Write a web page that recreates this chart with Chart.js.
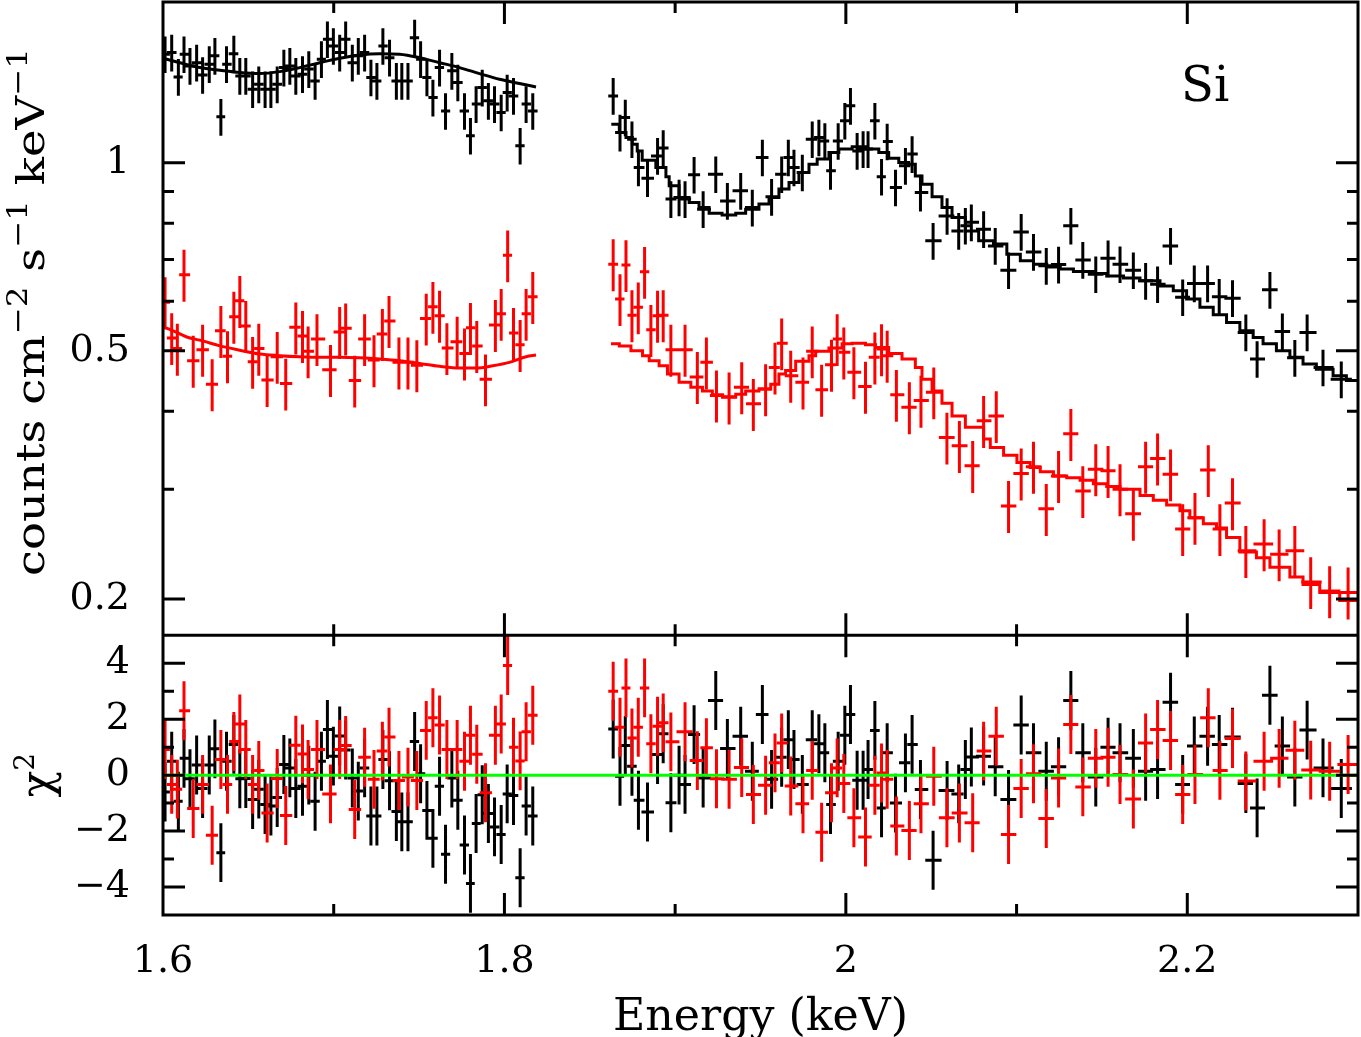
<!DOCTYPE html>
<html><head><meta charset="utf-8">
<script src="https://cdn.jsdelivr.net/npm/chart.js@4"></script>
<style>html,body{margin:0;padding:0;background:#fff}canvas{display:block}</style>
</head><body>
<canvas id="c" width="1361" height="1037"></canvas>
<script>
// ---------------- data (energy in keV, flux in counts cm^-2 s^-1 keV^-1) ----------------
const blackLeftE = [1.6012,1.6051,1.6090,1.6123,1.6158,1.6197,1.6232,1.6271,1.6304,1.6339,1.6372,1.6415,1.6450,1.6485,1.6525,1.6561,1.6598,1.6632,1.6669,1.6708,1.6743,1.6778,1.6817,1.6854,1.6891,1.6928,1.6963,1.6998,1.7035,1.7070,1.7109,1.7144,1.7181,1.7218,1.7253,1.7288,1.7327,1.7367,1.7399,1.7435,1.7474,1.7509,1.7546,1.7581,1.7620,1.7655,1.7692,1.7727,1.7766,1.7801,1.7834,1.7870,1.7906,1.7942,1.7981,1.8016,1.8053,1.8092,1.8127,1.8166];
const blackLeftFlux = [1.493,1.502,1.373,1.493,1.430,1.447,1.383,1.439,1.484,1.185,1.439,1.496,1.378,1.378,1.312,1.336,1.312,1.312,1.336,1.421,1.430,1.378,1.387,1.413,1.353,1.466,1.578,1.539,1.502,1.578,1.447,1.484,1.502,1.370,1.353,1.539,1.474,1.353,1.353,1.353,1.587,1.466,1.370,1.272,1.421,1.211,1.404,1.345,1.211,1.105,1.242,1.320,1.257,1.242,1.204,1.296,1.280,1.065,1.242,1.211];
const blackLeftResid = [-0.6,0.5,-0.93,0.6,-0.13,0.36,-0.48,0.36,0.94,-2.77,0.5,1.1,-0.13,-0.12,-0.87,-0.5,-1.05,-1.1,-0.8,0.38,0.26,-0.48,-0.4,0,-0.93,0.5,1.63,0.68,1.4,0.9,-0.1,-0.57,0.26,-1.46,-1.46,0.56,-0.2,-1.3,-1.67,-1.67,1.2,0.05,-1.26,-2.26,-0.4,-2.83,-0.1,-0.9,-2.5,-3.87,-1.73,-0.7,-1.37,-1.85,-2.12,-0.67,-0.73,-3.67,-1.1,-1.46];

const blackRightE = [1.8637,1.8677,1.8708,1.8747,1.8785,1.8838,1.8897,1.8930,1.8975,1.9023,1.9058,1.9111,1.9164,1.9238,1.9306,1.9384,1.9452,1.9511,1.9565,1.9624,1.9663,1.9696,1.9745,1.9803,1.9842,1.9877,1.9910,1.9955,1.9994,2.0027,2.0066,2.0101,2.0130,2.0170,2.0209,2.0242,2.0291,2.0349,2.0388,2.0437,2.0511,2.0593,2.0661,2.0700,2.0735,2.0807,2.0875,2.0953,2.1027,2.1099,2.1174,2.1246,2.1318,2.1388,2.1464,2.1536,2.1606,2.1684,2.1756,2.1826,2.1902,2.1973,2.2041,2.2119,2.2187,2.2265,2.2343,2.2409,2.2484,2.2557,2.2630,2.2702,2.2795,2.2902];
const blackRightFlux = [1.280,1.118,1.182,1.091,0.983,0.945,1.026,1.056,0.875,0.880,0.875,0.957,0.843,0.959,0.869,0.902,0.848,1.020,0.882,0.959,1.020,0.983,0.965,1.091,1.098,1.084,0.971,1.084,1.168,1.234,1.045,1.052,1.052,1.168,0.950,1.082,0.913,0.989,1.033,0.896,0.750,0.822,0.778,0.793,0.803,0.783,0.736,0.673,0.775,0.720,0.684,0.687,0.793,0.699,0.663,0.703,0.688,0.673,0.647,0.639,0.736,0.609,0.641,0.641,0.610,0.607,0.535,0.485,0.626,0.537,0.487,0.535,0.470,0.450];
const blackRightResid = [1.65,-0.04,1.06,0.32,-0.9,-1.32,0.74,1.48,-0.99,0,-0.33,1.45,-0.1,2.67,0.95,1.39,0.14,2.17,-0.15,0.64,1.27,0.56,-0.33,1.27,1.12,0.8,-1.05,0.5,1.43,2.17,-0.18,-0.18,0.2,1.6,-1.17,0.8,-1.0,0.44,1.1,-0.51,-3.04,-0.55,-0.67,0.2,0.65,0.68,0.3,-0.87,1.79,0.8,0.14,0.3,2.67,0.8,-0.07,1.0,0.8,0.6,0.14,0.2,2.61,-0.33,1.04,1.39,1.1,1.36,-0.3,-1.17,2.86,1.04,-0.07,1.61,0.26,-0.48];

const redLeftE = [1.6012,1.6051,1.6084,1.6123,1.6177,1.6232,1.6288,1.6339,1.6378,1.6415,1.6450,1.6485,1.6525,1.6561,1.6610,1.6669,1.6719,1.6778,1.6817,1.6850,1.6902,1.6981,1.7035,1.7070,1.7123,1.7181,1.7236,1.7285,1.7324,1.7382,1.7435,1.7487,1.7542,1.7581,1.7620,1.7663,1.7723,1.7766,1.7801,1.7838,1.7889,1.7947,1.7981,1.8019,1.8053,1.8092,1.8127,1.8166];
const redLeftFlux = [0.598,0.524,0.504,0.662,0.482,0.502,0.442,0.538,0.490,0.567,0.601,0.548,0.480,0.504,0.449,0.489,0.443,0.545,0.528,0.499,0.522,0.466,0.536,0.543,0.448,0.522,0.483,0.532,0.558,0.479,0.479,0.474,0.563,0.588,0.569,0.505,0.517,0.495,0.544,0.509,0.450,0.550,0.573,0.711,0.534,0.511,0.573,0.610];
const redLeftResid = [0.92,-0.33,-0.5,2.3,-1.19,-0.33,-2.15,0.56,-0.33,1.2,1.83,0.92,-0.33,0.17,-1.35,-0.12,-1.44,1.07,0.76,0.2,0.92,-0.67,0.92,1.06,-1.23,0.64,-0.15,0.86,1.36,-0.19,-0.07,-0.19,1.6,2.05,1.79,0.92,0.92,0.5,1.43,0.75,-0.63,1.43,1.83,3.92,1.0,0.51,1.55,2.14];

const redRightE = [1.8637,1.8677,1.8712,1.8747,1.8784,1.8821,1.8858,1.8897,1.8930,1.8975,1.9058,1.9130,1.9183,1.9242,1.9316,1.9390,1.9458,1.9530,1.9585,1.9624,1.9677,1.9749,1.9803,1.9858,1.9916,1.9949,1.9988,2.0047,2.0115,2.0170,2.0209,2.0242,2.0296,2.0372,2.0440,2.0515,2.0592,2.0665,2.0743,2.0807,2.0881,2.0953,2.1027,2.1099,2.1174,2.1246,2.1318,2.1388,2.1464,2.1536,2.1606,2.1684,2.1756,2.1826,2.1902,2.1973,2.2045,2.2123,2.2191,2.2265,2.2343,2.2450,2.2538,2.2630,2.2723,2.2834,2.2942];
const redRightFlux = [0.688,0.605,0.686,0.570,0.587,0.669,0.540,0.569,0.570,0.502,0.502,0.454,0.479,0.424,0.421,0.437,0.411,0.434,0.470,0.514,0.456,0.445,0.499,0.433,0.475,0.522,0.497,0.462,0.438,0.488,0.503,0.491,0.425,0.406,0.416,0.429,0.363,0.352,0.327,0.386,0.393,0.282,0.318,0.326,0.279,0.315,0.368,0.298,0.323,0.321,0.300,0.274,0.326,0.336,0.317,0.259,0.270,0.322,0.259,0.285,0.239,0.245,0.236,0.239,0.213,0.206,0.205];
const redRightResid = [3.0,1.71,3.12,1.33,1.71,3.12,1.12,1.75,1.87,1.19,1.55,0.52,0.98,-0.13,-0.15,0.27,-0.69,-0.36,0.44,1.15,-0.39,-1.02,0.17,-2.04,-0.63,0.26,-0.3,-1.52,-2.21,-0.36,0.08,-0.15,-1.82,-1.98,-1.02,-0.04,-1.52,-1.35,-1.7,0.86,1.39,-2.12,-0.48,0.05,-1.55,-0.1,1.81,-0.42,0.6,0.64,0.02,-0.85,1.15,1.63,1.24,-0.69,0.02,2.05,0.17,1.31,-0.21,0.5,0.6,0.89,0.18,0.14,0.38];

// relative 1-sigma flux errors
const blackRelErr = 0.062;
const redRelErr = 0.09;

// fitted models
const blackLeftModelE = [1.6000,1.6099,1.6216,1.6333,1.6450,1.6567,1.6684,1.6801,1.6918,1.7035,1.7152,1.7269,1.7386,1.7503,1.7620,1.7737,1.7854,1.7971,1.8088,1.8185];
const blackLeftModel = [1.471,1.447,1.421,1.407,1.395,1.390,1.400,1.421,1.447,1.471,1.489,1.496,1.493,1.474,1.447,1.421,1.390,1.361,1.340,1.323];
const blackRightModelE = [1.8626,1.8673,1.8712,1.8749,1.8778,1.8807,1.8887,1.8946,1.8965,1.9023,1.9082,1.9140,1.9199,1.9275,1.9355,1.9413,1.9491,1.9550,1.9608,1.9667,1.9725,1.9784,1.9832,1.9901,1.9959,2.0037,2.0115,2.0193,2.0251,2.0310,2.0368,2.0407,2.0446,2.0505,2.0563,2.0622,2.0700,2.0778,2.0865,2.0943,2.1022,2.1099,2.1177,2.1256,2.1333,2.1450,2.1528,2.1626,2.1723,2.1840,2.1918,2.1996,2.2074,2.2152,2.2230,2.2308,2.2386,2.2444,2.2522,2.2601,2.2678,2.2756,2.2854,2.2932,2.3000];
const blackRightModel = [1.153,1.118,1.098,1.071,1.045,1.010,0.983,0.950,0.919,0.880,0.864,0.848,0.830,0.825,0.830,0.843,0.859,0.880,0.908,0.930,0.965,0.995,1.014,1.039,1.052,1.061,1.052,1.039,1.017,1.001,0.995,0.953,0.924,0.882,0.848,0.817,0.778,0.750,0.741,0.714,0.697,0.688,0.681,0.676,0.670,0.665,0.659,0.654,0.647,0.635,0.624,0.605,0.587,0.571,0.555,0.538,0.525,0.513,0.500,0.488,0.476,0.467,0.456,0.448,0.448];
const redLeftModelE = [1.6000,1.6060,1.6139,1.6236,1.6333,1.6450,1.6567,1.6684,1.6801,1.6918,1.7035,1.7152,1.7269,1.7386,1.7503,1.7620,1.7737,1.7834,1.7932,1.8029,1.8127,1.8185];
const redLeftModel = [0.546,0.538,0.526,0.518,0.509,0.501,0.494,0.491,0.489,0.488,0.488,0.487,0.485,0.482,0.477,0.472,0.469,0.469,0.473,0.479,0.489,0.492];
const redRightModelE = [1.8624,1.8673,1.8741,1.8809,1.8848,1.8906,1.8955,1.9023,1.9092,1.9160,1.9218,1.9277,1.9355,1.9413,1.9491,1.9560,1.9608,1.9647,1.9706,1.9784,1.9823,1.9901,1.9978,2.0037,2.0115,2.0174,2.0251,2.0329,2.0407,2.0446,2.0505,2.0563,2.0622,2.0700,2.0807,2.0846,2.0924,2.1002,2.1080,2.1139,2.1216,2.1294,2.1372,2.1450,2.1528,2.1606,2.1723,2.1801,2.1879,2.1957,2.2015,2.2094,2.2171,2.2230,2.2308,2.2405,2.2484,2.2601,2.2678,2.2776,2.2893,2.3000];
const redRightModel = [0.513,0.509,0.500,0.491,0.482,0.473,0.459,0.445,0.437,0.431,0.425,0.422,0.426,0.431,0.434,0.442,0.459,0.465,0.481,0.491,0.499,0.505,0.513,0.514,0.511,0.506,0.495,0.485,0.470,0.450,0.431,0.412,0.393,0.377,0.361,0.350,0.340,0.331,0.325,0.320,0.315,0.313,0.310,0.306,0.303,0.300,0.293,0.288,0.283,0.277,0.270,0.264,0.260,0.251,0.238,0.233,0.225,0.217,0.211,0.205,0.199,0.199];

// axes / ticks / labels
const xTickValues = [1.6,1.7,1.8,1.9,2.0,2.1,2.2,2.3];
const xMajor = [1.6,1.8,2.0,2.2];
const xMajorLabels = ['1.6','1.8','2','2.2'];
const fluxTickValues = [0.2,0.3,0.4,0.5,0.6,0.7,0.8,0.9,1];
const fluxMajor = [0.2,0.5,1];
const fluxMajorLabels = ['0.2','0.5','1'];
const residTickValues = [-4,-3,-2,-1,0,1,2,3,4];
const residMajor = [-4,-2,0,2,4];
const residMajorLabels = ['\u22124','\u22122','0','2','4'];
const xTitle = 'Energy (keV)';
const fluxTitleParts = [['counts cm',0],['\u22122',1],[' s',0],['\u22121',1],[' keV',0],['\u22121',1]];
const residTitleParts = [['\u03c7',0],['2',1]];
const lineLabel = 'Si';
const lineLabelPos = {x: 2.2105, y: 1.257};

// ---------------- helpers ----------------
const FONT = "'DejaVu Serif', 'Liberation Serif', serif";
function findIdx(v, arr){ return arr.findIndex(t => Math.abs(t - v) < 1e-9); }
function labelFor(v, vals, labels){ const i = findIdx(v, vals); return i >= 0 ? labels[i] : ''; }
// horizontal extent of each bin = halfway to neighbouring bin centres (bins are contiguous)
function binEdges(xs){
  return xs.map((x,i) => {
    const l = i > 0 ? (x - xs[i-1]) / 2 : (xs[i+1] - x) / 2;
    const r = i < xs.length - 1 ? (xs[i+1] - x) / 2 : (x - xs[i-1]) / 2;
    return [x - l, x + r];
  });
}
function fluxPoints(xs, ys, rel){
  const e = binEdges(xs);
  return xs.map((x,i) => ({x, y: ys[i], xl: e[i][0], xh: e[i][1], yl: ys[i]*(1-rel), yh: ys[i]*(1+rel)}));
}
function residPoints(xs, ys){
  const e = binEdges(xs);
  return xs.map((x,i) => ({x, y: ys[i], xl: e[i][0], xh: e[i][1], yl: ys[i]-1, yh: ys[i]+1}));
}
function xy(xs, ys){ return xs.map((x,i) => ({x, y: ys[i]})); }

const BLACK = '#000000', RED = '#ff0000', GREEN = '#00ff00';

const datasets = [
  {label:'zero', data:[{x:1.6,y:0},{x:2.3,y:0}], yAxisID:'yRes', borderColor:GREEN, borderWidth:3, pointRadius:0, fill:false},
  {label:'black model L', data:xy(blackLeftModelE, blackLeftModel), yAxisID:'yFlux', borderColor:BLACK, borderWidth:3, pointRadius:0, cubicInterpolationMode:'monotone', fill:false},
  {label:'black model R', data:xy(blackRightModelE, blackRightModel), yAxisID:'yFlux', borderColor:BLACK, borderWidth:3, pointRadius:0, stepped:'before', fill:false},
  {label:'red model L', data:xy(redLeftModelE, redLeftModel), yAxisID:'yFlux', borderColor:RED, borderWidth:3, pointRadius:0, cubicInterpolationMode:'monotone', fill:false},
  {label:'red model R', data:xy(redRightModelE, redRightModel), yAxisID:'yFlux', borderColor:RED, borderWidth:3, pointRadius:0, stepped:'before', fill:false},
  {label:'black data', crosses:true, data:fluxPoints(blackLeftE,blackLeftFlux,blackRelErr).concat(fluxPoints(blackRightE,blackRightFlux,blackRelErr)), yAxisID:'yFlux', borderColor:BLACK, showLine:false, pointRadius:0},
  {label:'red data', crosses:true, data:fluxPoints(redLeftE,redLeftFlux,redRelErr).concat(fluxPoints(redRightE,redRightFlux,redRelErr)), yAxisID:'yFlux', borderColor:RED, showLine:false, pointRadius:0},
  {label:'black resid', crosses:true, data:residPoints(blackLeftE,blackLeftResid).concat(residPoints(blackRightE,blackRightResid)), yAxisID:'yRes', borderColor:BLACK, showLine:false, pointRadius:0},
  {label:'red resid', crosses:true, data:residPoints(redLeftE,redLeftResid).concat(residPoints(redRightE,redRightResid)), yAxisID:'yRes', borderColor:RED, showLine:false, pointRadius:0}
];

// draws a text made of normal / superscript parts, centred on the origin; optional target length
function drawParts(ctx, parts, size, supSize, supRise, targetLen){
  let w = 0;
  parts.forEach(([t,s]) => { ctx.font = (s ? supSize : size) + 'px ' + FONT; w += ctx.measureText(t).width; });
  const k = targetLen ? targetLen / w : 1;
  ctx.scale(k, 1);
  let x = -w/2;
  parts.forEach(([t,s]) => {
    ctx.font = (s ? supSize : size) + 'px ' + FONT;
    ctx.fillText(t, x, s ? -supRise : 0);
    x += ctx.measureText(t).width;
  });
}

const xspecPlugin = {
  id: 'xspec',
  beforeDatasetsDraw(chart){
    const ctx = chart.ctx, xs = chart.scales.x, ca = chart.chartArea;
    chart.data.datasets.forEach(ds => {
      if (!ds.crosses) return;
      const ys = chart.scales[ds.yAxisID];
      ctx.save();
      ctx.beginPath(); ctx.rect(ca.left, ys.top, ca.right - ca.left, ys.bottom - ys.top); ctx.clip();
      ctx.strokeStyle = ds.borderColor; ctx.lineWidth = 3; ctx.lineCap = 'square';
      ctx.beginPath();
      ds.data.forEach(p => {
        const px = xs.getPixelForValue(p.x), py = ys.getPixelForValue(p.y);
        ctx.moveTo(xs.getPixelForValue(p.xl), py); ctx.lineTo(xs.getPixelForValue(p.xh), py);
        ctx.moveTo(px, ys.getPixelForValue(p.yl)); ctx.lineTo(px, ys.getPixelForValue(p.yh));
      });
      ctx.stroke();
      ctx.restore();
    });
  },
  afterDraw(chart){
    const ctx = chart.ctx, xs = chart.scales.x, yf = chart.scales.yFlux, yr = chart.scales.yRes, ca = chart.chartArea;
    const L = ca.left, R = ca.right, MAJ = 22, MIN = 11;
    ctx.save();
    ctx.strokeStyle = '#000'; ctx.lineWidth = 3; ctx.lineCap = 'butt';
    ctx.beginPath();
    // frames
    ctx.rect(L, yf.top, R - L, yf.bottom - yf.top);
    ctx.rect(L, yr.top, R - L, yr.bottom - yr.top);
    // x ticks, inward, on both panels
    xTickValues.forEach(v => {
      const px = xs.getPixelForValue(v);
      if (px <= L + 1 || px >= R - 1) return;
      const len = findIdx(v, xMajor) >= 0 ? MAJ : MIN;
      [[yf.top, 1],[yf.bottom, -1],[yr.top, 1],[yr.bottom, -1]].forEach(([y0, d]) => { ctx.moveTo(px, y0); ctx.lineTo(px, y0 + d*len); });
    });
    // y ticks
    [[yf, fluxTickValues, fluxMajor],[yr, residTickValues, residMajor]].forEach(([sc, vals, maj]) => {
      vals.forEach(v => {
        const py = sc.getPixelForValue(v);
        if (py <= sc.top + 1 || py >= sc.bottom - 1) return;
        const len = findIdx(v, maj) >= 0 ? MAJ : MIN;
        ctx.moveTo(L, py); ctx.lineTo(L + len, py);
        ctx.moveTo(R, py); ctx.lineTo(R - len, py);
      });
    });
    ctx.stroke();
    // titles
    ctx.fillStyle = '#000';
    ctx.textBaseline = 'alphabetic'; ctx.textAlign = 'left';
    ctx.save(); ctx.translate((L + R)/2, 1030); drawParts(ctx, [[xTitle,0]], 44, 30, 0, 295); ctx.restore();
    ctx.save(); ctx.translate(44, 312); ctx.rotate(-Math.PI/2); drawParts(ctx, fluxTitleParts, 40, 28, 17, 528); ctx.restore();
    ctx.save(); ctx.translate(52, (yr.top + yr.bottom)/2); ctx.rotate(-Math.PI/2); drawParts(ctx, residTitleParts, 44, 28, 18, 0); ctx.restore();
    // line label
    ctx.font = '48px ' + FONT; ctx.textAlign = 'center';
    ctx.fillText(lineLabel, xs.getPixelForValue(lineLabelPos.x), yf.getPixelForValue(lineLabelPos.y));
    ctx.restore();
  }
};

const tickFont = {family: FONT, size: 38};
function noPad(s){ s.paddingTop = 0; s.paddingBottom = 0; s.paddingLeft = 0; s.paddingRight = 0; }

new Chart(document.getElementById('c').getContext('2d'), {
  type: 'line',
  data: {datasets},
  options: {
    responsive: false, animation: false, devicePixelRatio: 1,
    layout: {padding: {left: 0, right: 3, top: 2, bottom: 0}},
    plugins: {legend: {display: false}, tooltip: {enabled: false}},
    elements: {line: {tension: 0}},
    scales: {
      x: {
        type: 'linear', min: 1.6, max: 2.3, position: 'bottom', bounds: 'data',
        grid: {display: false, drawTicks: false}, border: {display: false},
        afterBuildTicks: s => { s.ticks = xTickValues.map(v => ({value: v})); },
        ticks: {autoSkip: false, maxRotation: 0, minRotation: 0, padding: 24, color: '#000', font: tickFont,
                callback: v => labelFor(v, xMajor, xMajorLabels)},
        afterFit: s => { s.height = 122; noPad(s); }
      },
      yFlux: {
        type: 'logarithmic', min: 0.175, max: 1.81, position: 'left', bounds: 'data',
        stack: 'panels', stackWeight: 634, weight: 2,
        grid: {display: false, drawTicks: false}, border: {display: false},
        afterBuildTicks: s => { s.ticks = fluxTickValues.map(v => ({value: v})); },
        ticks: {autoSkip: false, padding: 33, color: '#000', font: tickFont,
                callback: v => labelFor(v, fluxMajor, fluxMajorLabels)},
        afterFit: s => { s.width = 163; noPad(s); }
      },
      yRes: {
        type: 'linear', min: -5, max: 5, position: 'left', bounds: 'data',
        stack: 'panels', stackWeight: 280, weight: 1,
        grid: {display: false, drawTicks: false}, border: {display: false},
        afterBuildTicks: s => { s.ticks = residTickValues.map(v => ({value: v})); },
        ticks: {autoSkip: false, padding: 33, color: '#000', font: tickFont,
                callback: v => labelFor(v, residMajor, residMajorLabels)},
        afterFit: s => { s.width = 163; noPad(s); }
      }
    }
  },
  plugins: [xspecPlugin]
});
</script>
</body></html>
